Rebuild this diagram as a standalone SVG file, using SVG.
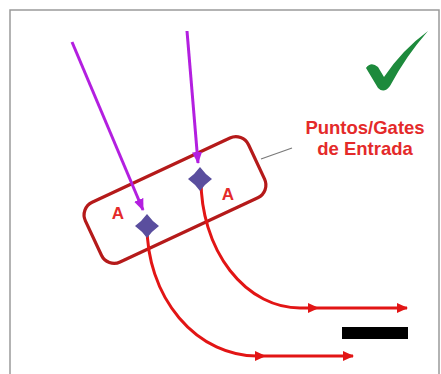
<svg xmlns="http://www.w3.org/2000/svg" width="441" height="374" viewBox="0 0 441 374">
<defs>
<style>
.frame{fill:none;stroke:#9a9a9a;stroke-width:1.5}
.purple{fill:none;stroke:#b31fe0;stroke-width:3}
.red{fill:none;stroke:#e21515;stroke-width:3}
.box{fill:none;stroke:#b51a1a;stroke-width:3.2}
.lbl{font-family:"Liberation Sans",Arial,sans-serif;font-weight:bold;fill:#e42a2a}
.dia{fill:#5a4e9e}
</style>
<marker id="ap" viewBox="0 0 12 10" refX="11" refY="5" markerWidth="12" markerHeight="10" markerUnits="userSpaceOnUse" orient="auto">
<path d="M0,0 L12,5 L0,10 Z" fill="#b31fe0"/>
</marker>
<marker id="ar" viewBox="0 0 11 10" refX="10" refY="5" markerWidth="11" markerHeight="10" markerUnits="userSpaceOnUse" orient="auto">
<path d="M0,0 L11,5 L0,10 Z" fill="#e21515"/>
</marker>
<path id="diamond" d="M0,-12 Q5,-5 12,0 Q5,5 0,12 Q-5,5 -12,0 Q-5,-5 0,-12 Z"/>
</defs>
<rect x="0" y="0" width="441" height="374" fill="#ffffff"/>
<path class="frame" d="M10,374 L10,10 L439,10 L439,374"/>

<g id="gate-box">
<rect class="box" x="85" y="167" width="180" height="66" rx="14" transform="rotate(-25 175 200)"/>
</g>

<g id="connectors">
<line class="purple" x1="72" y1="42" x2="143" y2="210" marker-end="url(#ap)"/>
<line class="purple" x1="187" y1="31" x2="198" y2="163" marker-end="url(#ap)"/>
<path class="red" d="M201,180 A99,128 0 0 0 300,308 L318,308" marker-end="url(#ar)"/>
<path class="red" d="M318,308 L407,308" marker-end="url(#ar)"/>
<path class="red" d="M147,226 A110,130 0 0 0 257,356 L265,356" marker-end="url(#ar)"/>
<path class="red" d="M265,356 L353,356" marker-end="url(#ar)"/>
<line x1="261" y1="159" x2="292" y2="148" stroke="#7a7a7a" stroke-width="1.3"/>
</g>

<g id="gate-1">
<use href="#diamond" class="dia" transform="translate(147 226)"/>
<text class="lbl" x="118" y="219" font-size="17" text-anchor="middle">A</text>
</g>
<g id="gate-2">
<use href="#diamond" class="dia" transform="translate(200 179)"/>
<text class="lbl" x="228" y="200" font-size="17" text-anchor="middle">A</text>
</g>

<g id="label">
<text class="lbl" x="365" y="134" font-size="18.5" text-anchor="middle">Puntos/Gates</text>
<text class="lbl" x="365" y="155" font-size="18.5" text-anchor="middle">de Entrada</text>
</g>

<g id="checkmark">
<path d="M366,68 Q371,61 378,67 L384,77 Q402,50 428,31 Q406,56 390,86 Q384,94 378,88 Z" fill="#1d8a3c"/>
</g>

<g id="scale-bar">
<rect x="342" y="327" width="66" height="12" fill="#000000"/>
</g>
</svg>
